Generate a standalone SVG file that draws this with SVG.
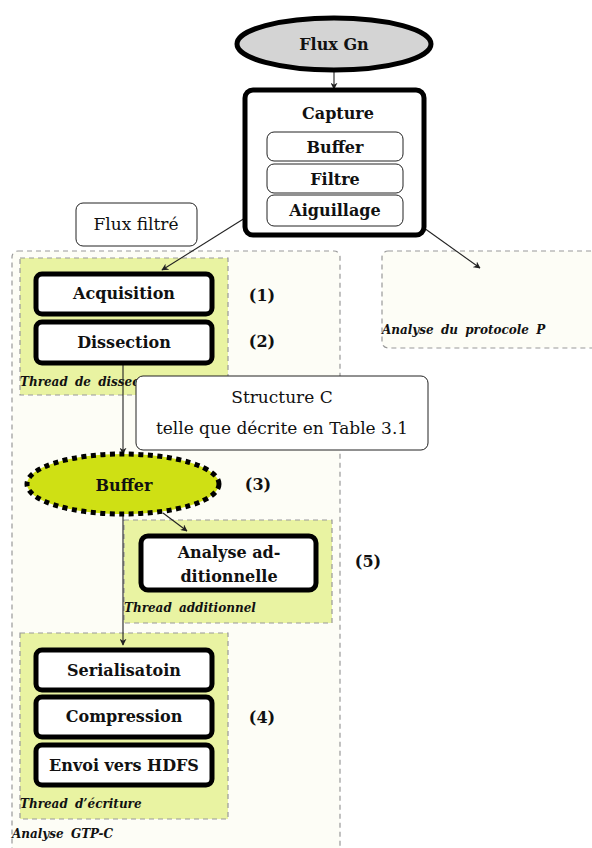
<svg xmlns="http://www.w3.org/2000/svg" width="592" height="848" viewBox="0 0 592 848">
<style>
text{font-family:"DejaVu Serif","Liberation Serif",serif;fill:#111}
.b{font-weight:bold;font-size:16px;text-anchor:middle}
.r{font-size:17px;text-anchor:middle}
.lab{font-weight:bold;font-style:italic;font-size:12px;word-spacing:3px}
.area{fill:#fdfdf6;stroke:#999;stroke-width:1.2;stroke-dasharray:5 4}
.thr{fill:#e9f3a2;stroke:#999;stroke-width:1.2;stroke-dasharray:5 4}
.thick{fill:#fff;stroke:#000;stroke-width:5}
.thin{fill:#fff;stroke:#222;stroke-width:1}
.con{stroke:#222;stroke-width:1.1;fill:none;marker-end:url(#ah)}
</style>
<defs>
<marker id="ah" viewBox="0 0 10 10" refX="9" refY="5" markerWidth="7" markerHeight="7" orient="auto" markerUnits="userSpaceOnUse">
<path d="M0,0 L10,5 L0,10 L3,5 z" fill="#222"/>
</marker>
</defs>

<g id="analyse-gtpc">
<rect class="area" x="12" y="251" width="328" height="610" rx="6"/>
<text class="lab" x="12" y="838">Analyse GTP-C</text>
</g>
<g id="analyse-p">
<rect class="area" x="382" y="251" width="230" height="97" rx="6"/>
<text class="lab" x="382" y="334">Analyse du protocole P</text>
</g>
<g id="thread-dissection">
<rect class="thr" x="20" y="258" width="208" height="137"/>
<text class="lab" x="20" y="386">Thread de dissection</text>
</g>
<g id="thread-additionnel">
<rect class="thr" x="124" y="520" width="208" height="103"/>
<text class="lab" x="124" y="612">Thread additionnel</text>
</g>
<g id="thread-ecriture">
<rect class="thr" x="20" y="633" width="208" height="186"/>
<text class="lab" x="20" y="808">Thread d’écriture</text>
</g>

<g id="connectors">
<line class="con" x1="334" y1="71" x2="334" y2="89"/>
<line class="con" x1="245" y1="218" x2="162" y2="270"/>
<line class="con" x1="424" y1="228" x2="480" y2="268"/>
<line class="con" x1="123" y1="364" x2="123" y2="454"/>
<line class="con" x1="163" y1="513" x2="187" y2="531"/>
<line class="con" x1="123" y1="516" x2="123" y2="645"/>
</g>

<g id="flux-gn">
<ellipse cx="334" cy="44" rx="97" ry="26" fill="#d4d4d4" stroke="#000" stroke-width="5"/>
<text class="b" x="334" y="50">Flux Gn</text>
</g>
<g id="capture">
<rect class="thick" x="245" y="90" width="179" height="145" rx="8"/>
<text class="b" x="338" y="119">Capture</text>
<rect class="thin" x="267" y="132" width="136" height="29" rx="7"/>
<text class="b" x="335" y="153">Buffer</text>
<rect class="thin" x="267" y="164" width="136" height="29" rx="7"/>
<text class="b" x="335" y="185">Filtre</text>
<rect class="thin" x="267" y="195" width="136" height="31" rx="7"/>
<text class="b" x="335" y="216">Aiguillage</text>
</g>
<g id="flux-filtre">
<rect class="thin" x="76" y="203" width="121" height="43" rx="7"/>
<text class="r" x="136" y="230">Flux filtré</text>
</g>
<g id="acquisition">
<rect class="thick" x="36" y="274" width="176" height="40" rx="6"/>
<text class="b" x="124" y="299">Acquisition</text>
</g>
<g id="dissection">
<rect class="thick" x="36" y="322" width="176" height="41" rx="6"/>
<text class="b" x="124" y="348">Dissection</text>
</g>
<g id="structure-c">
<rect class="thin" x="136" y="376" width="292" height="74" rx="7"/>
<text class="r" x="282" y="403">Structure C</text>
<text class="r" x="282" y="434">telle que décrite en Table 3.1</text>
</g>
<g id="buffer">
<ellipse cx="123" cy="484" rx="96" ry="30" fill="#cfe014" stroke="#000" stroke-width="5" stroke-dasharray="5 4.5"/>
<text class="b" x="124" y="491">Buffer</text>
</g>
<g id="analyse-add">
<rect class="thick" x="141" y="536" width="175" height="54" rx="7"/>
<text class="b" x="229" y="558">Analyse ad-</text>
<text class="b" x="229" y="582">ditionnelle</text>
</g>
<g id="serialisation">
<rect class="thick" x="36" y="650" width="176" height="40" rx="6"/>
<text class="b" x="124" y="676">Serialisatoin</text>
</g>
<g id="compression">
<rect class="thick" x="36" y="697" width="176" height="40" rx="6"/>
<text class="b" x="124" y="722">Compression</text>
</g>
<g id="envoi">
<rect class="thick" x="36" y="745" width="176" height="40" rx="6"/>
<text class="b" x="124" y="771">Envoi vers HDFS</text>
</g>
<g id="labels">
<text class="b" x="262" y="301">(1)</text>
<text class="b" x="262" y="347">(2)</text>
<text class="b" x="258" y="490">(3)</text>
<text class="b" x="262" y="723">(4)</text>
<text class="b" x="368" y="567">(5)</text>
</g>
</svg>
